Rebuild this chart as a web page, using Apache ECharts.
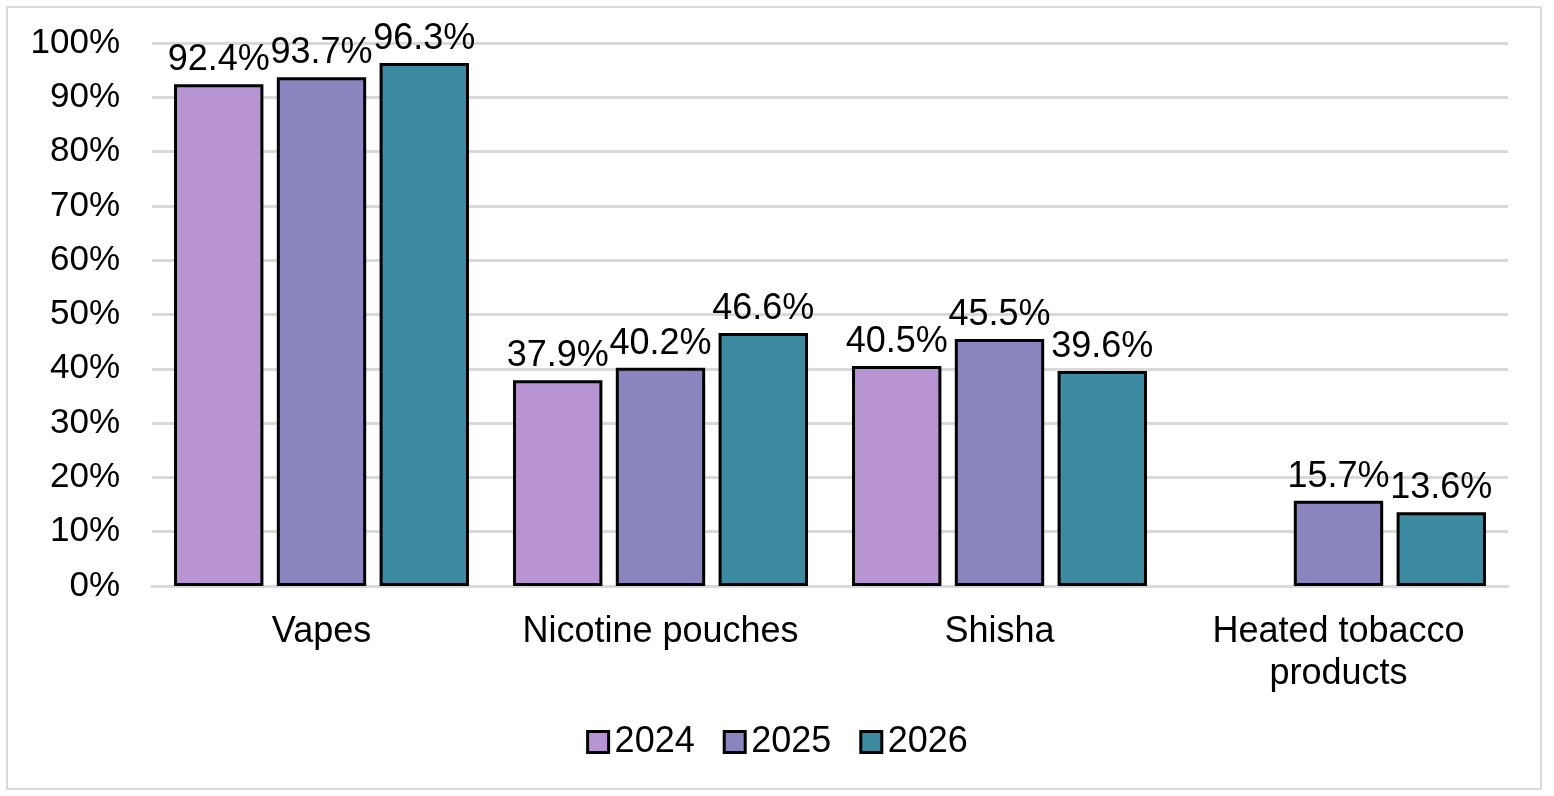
<!DOCTYPE html>
<html>
<head>
<meta charset="utf-8">
<script src="https://cdn.jsdelivr.net/npm/echarts@6/dist/echarts.min.js"></script>
<style>
  html, body { margin: 0; padding: 0; background: #fff; }
  #chart { width: 1554px; height: 796px; }
</style>
</head>
<body>
<div id="chart"></div>
<script>
// categories and series
var categories = ['Vapes', 'Nicotine pouches', 'Shisha', 'Heated tobacco\nproducts'];
var years = ['2024', '2025', '2026'];
var values2024 = [92.4, 37.9, 40.5, null];
var values2025 = [93.7, 40.2, 45.5, 15.7];
var values2026 = [96.3, 46.6, 39.6, 13.6];
var yTicks = [0, 100, 10];

var colors = ['#B994D2', '#8A84BF', '#3D8BA1'];
var font = 'Liberation Sans, Arial, sans-serif';

window.onload = function () {
    var chart = echarts.init(document.getElementById('chart'));

    function makeSeries(name, data, i) {
        return {
            name: name,
            type: 'bar',
            data: data,
            barGap: '15%',
            barCategoryGap: '13%',
            itemStyle: {
                color: colors[i],
                borderColor: '#000',
                borderWidth: 3
            },
            label: {
                show: true,
                position: 'top',
                distance: 6,
                color: '#000',
                fontFamily: font,
                fontSize: 36,
                formatter: function (p) { return p.value.toFixed(1) + '%'; }
            }
        };
    }

    var option = {
        animation: false,
        graphic: [{
            type: 'rect',
            shape: { x: 7, y: 7, width: 1534, height: 782 },
            style: { fill: 'none', stroke: '#d9d9d9', lineWidth: 2 }
        }],
        grid: { left: 152, right: 46, top: 43, bottom: 210 },
        legend: {
            data: years,
            bottom: 31,
            left: 'center',
            itemWidth: 21,
            itemHeight: 21,
            itemGap: 28,
            icon: 'rect',
            itemStyle: { borderColor: '#000', borderWidth: 3 },
            textStyle: { fontFamily: font, fontSize: 36, color: '#000', padding: [0, 0, 0, 1] }
        },
        xAxis: {
            type: 'category',
            data: categories,
            axisLine: { lineStyle: { color: '#d9d9d9', width: 3 } },
            axisTick: { show: false },
            axisLabel: {
                color: '#000',
                fontFamily: font,
                fontSize: 36,
                margin: 25,
                lineHeight: 42,
                interval: 0
            }
        },
        yAxis: {
            type: 'value',
            min: yTicks[0],
            max: yTicks[1],
            interval: yTicks[2],
            axisLine: { show: false },
            axisTick: { show: false },
            splitLine: { lineStyle: { color: '#d9d9d9', width: 3 } },
            axisLabel: {
                color: '#000',
                fontFamily: font,
                fontSize: 35,
                margin: 32,
                formatter: '{value}%'
            }
        },
        series: [
            makeSeries(years[0], values2024, 0),
            makeSeries(years[1], values2025, 1),
            makeSeries(years[2], values2026, 2)
        ]
    };
    chart.setOption(option);
};
</script>
</body>
</html>
